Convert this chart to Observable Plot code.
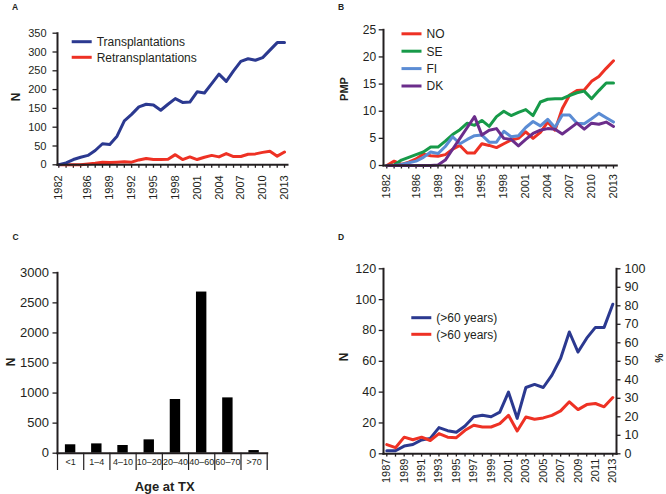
<!DOCTYPE html>
<html><head><meta charset="utf-8">
<script src="https://cdn.jsdelivr.net/npm/d3@7"></script>
<script src="https://cdn.jsdelivr.net/npm/@observablehq/plot@0.6"></script>
<style>
html,body{margin:0;padding:0;background:#fff;}
#root{position:relative;width:666px;height:494px;overflow:hidden;font-family:"Liberation Sans",Arial,Helvetica,sans-serif;color:#231f20;}
.panel{position:absolute;}
#overlay{position:absolute;left:0;top:0;pointer-events:none;}
</style></head><body><div id="root"></div>
<script>
// ---------- data ----------
const years = [1982,1983,1984,1985,1986,1987,1988,1989,1990,1991,1992,1993,1994,1995,1996,1997,1998,1999,2000,2001,2002,2003,2004,2005,2006,2007,2008,2009,2010,2011,2012,2013];
const yearLabelsAB = [1982,1986,1989,1992,1995,1998,2001,2004,2007,2010,2013];

const transplantations = [0,5,14,20,25,38,56,54,76,117,134,154,161,159,145,161,176,166,167,194,191,216,241,222,250,275,282,278,285,305,325,325];
const retransplantations = [0,0,0,0,2,4,7,6,7,8,7,13,17,14,14,15,27,14,21,14,20,25,21,30,22,22,28,29,33,36,23,34];
const ticksA = [0,50,100,150,200,250,300,350];

const pmpNO = [0,0.8,0.2,0.6,1.2,2.1,1.8,1.7,2.0,3.0,3.7,2.3,2.3,4.0,3.7,3.3,4.0,4.7,5.0,6.2,5.0,6.1,8.0,6.5,10.5,13.0,13.8,13.9,15.5,16.4,17.9,19.3];
const pmpSE = [0,0.1,1.0,1.5,2.0,2.5,3.4,3.4,4.5,5.7,6.6,7.8,7.4,8.3,7.2,9.0,10.0,9.2,9.8,10.3,9.2,11.7,12.2,12.3,12.3,12.9,13.4,13.7,12.3,13.8,15.2,15.2];
const pmpFI = [0,0,0.2,0.5,0.8,1.5,2.5,2.2,3.5,5.3,4.0,4.8,5.5,5.6,4.3,4.3,6.3,5.3,5.5,7.0,8.1,7.3,8.5,7.0,9.3,9.3,7.8,7.7,8.6,9.6,8.8,8.0];
const pmpDK = [0,0,0,0,0,0,0,0.1,1.0,3.0,5.0,7.0,9.0,5.6,6.5,6.8,5.0,4.8,3.6,4.8,5.9,6.5,6.8,6.7,5.8,6.8,7.8,6.7,7.8,7.6,8.0,7.2];
const countries = ["NO","SE","FI","DK"];
const ticksB = [0,5,10,15,20,25];

const ageGroups = ["<1","1–4","4–10","10–20","20–40","40–60","60–70",">70"];
const ageCounts = [140,155,128,222,893,2680,920,44];
const ticksC = [0,500,1000,1500,2000,2500,3000];

const yearsD = [1987,1988,1989,1990,1991,1992,1993,1994,1995,1996,1997,1998,1999,2000,2001,2002,2003,2004,2005,2006,2007,2008,2009,2010,2011,2012,2013];
const yearLabelsD = [1987,1989,1991,1993,1995,1997,1999,2001,2003,2005,2007,2009,2011,2013];
const over60N = [2,2,5,6,9,10,17,15,14,18,24,25,24,27,40,23,43,45,43,51,62,79,66,75,82,82,97];
const over60Pct = [5,3.3,9,7.6,9,7.2,10.9,9,8.7,12.7,15.4,14.5,14.5,16.3,20.8,12.3,19.9,18.7,19.4,20.8,23.2,28.1,23.9,26.6,27.2,25.4,30.4];
const ticksDLeft = [0,20,40,60,80,100,120];
const ticksDRight = [0,10,20,30,40,50,60,70,80,90,100];

// ---------- style ----------
const INK = "#231f20";
const BLUE = "#2b3990";
const RED = "#ee3124";
const GREEN = "#179a49";
const LBLUE = "#5b8cd4";
const PURPLE = "#6b2d8b";
const countryColors = [RED, GREEN, LBLUE, PURPLE];
const FONT = '"Liberation Sans", Arial, Helvetica, sans-serif';
const plain = d => String(d);
const root = document.getElementById("root");

function place(el, left, top) {
  const d = document.createElement("div");
  d.className = "panel";
  d.style.left = left + "px";
  d.style.top = top + "px";
  d.appendChild(el);
  root.appendChild(d);
}
const baseStyle = {fontFamily: FONT, fontSize: "11px", color: INK, background: "transparent", overflow: "visible"};

// ---------- Panel A ----------
const rowsA = years.map((year, i) => ({year, tx: transplantations[i], retx: retransplantations[i]}));
place(Plot.plot({
  width: 333, height: 230,
  marginLeft: 57, marginRight: 46, marginTop: 32.7, marginBottom: 65.7,
  style: baseStyle,
  x: {domain: [years[0], years[years.length - 1]], insetLeft: 1.3, insetRight: 3},
  y: {domain: [0, 350]},
  marks: [
    Plot.axisY({ticks: ticksA, tickFormat: plain, tickSize: 4.5, tickPadding: 6.5, fontSize: 11, label: null, strokeWidth: 1.3}),
    Plot.axisX({ticks: years, tickSize: 3.5, tickPadding: 7, tickRotate: -90, fontSize: 11, label: null, strokeWidth: 1.3,
      tickFormat: d => yearLabelsAB.includes(d) ? String(d) : ""}),
    Plot.line(rowsA, {x: "year", y: "retx", stroke: RED, strokeWidth: 3}),
    Plot.line(rowsA, {x: "year", y: "tx", stroke: BLUE, strokeWidth: 3}),
    Plot.frame({anchor: "left", strokeWidth: 2}),
    Plot.frame({anchor: "bottom", strokeWidth: 2})
  ]
}), 0, 0);

// ---------- Panel B ----------
const seriesB = [pmpNO, pmpSE, pmpFI, pmpDK];
const rowsB = countries.flatMap((c, k) => years.map((year, i) => ({country: c, year, pmp: seriesB[k][i]})));
place(Plot.plot({
  width: 333, height: 230,
  marginLeft: 50, marginRight: 49.7, marginTop: 29.3, marginBottom: 65,
  style: baseStyle,
  x: {domain: [years[0], years[years.length - 1]], insetLeft: 3.3, insetRight: 3.3},
  y: {domain: [0, 25]},
  color: {domain: countries, range: countryColors},
  marks: [
    Plot.axisY({ticks: ticksB, tickFormat: plain, tickSize: 4.3, tickPadding: 3, fontSize: 12, label: null, strokeWidth: 1.3}),
    Plot.axisX({ticks: years, tickSize: 3.5, tickPadding: 5, tickRotate: -90, fontSize: 11, label: null, strokeWidth: 1.3,
      tickFormat: d => yearLabelsAB.includes(d) ? String(d) : ""}),
    Plot.line(rowsB, {x: "year", y: "pmp", z: "country", stroke: "country", strokeWidth: 3}),
    Plot.frame({anchor: "left", strokeWidth: 2}),
    Plot.frame({anchor: "bottom", strokeWidth: 2})
  ]
}), 333, 0);

// ---------- Panel C ----------
const rowsC = ageGroups.map((group, i) => ({group, i, n: ageCounts[i]}));
place(Plot.plot({
  width: 333, height: 264,
  marginLeft: 57, marginRight: 66.3, marginTop: 42.3, marginBottom: 41.3,
  style: baseStyle,
  x: {domain: [0, ageGroups.length]},
  y: {domain: [0, 3000]},
  marks: [
    Plot.axisY({ticks: ticksC, tickFormat: plain, tickSize: 4.5, tickPadding: 4, fontSize: 13, label: null, strokeWidth: 1.3}),
    Plot.axisX({ticks: d3.range(0, ageGroups.length + 1), tickSize: 17.3, tickFormat: () => "", label: null, strokeWidth: 1.2}),
    Plot.rectY(rowsC, {x1: "i", x2: d => d.i + 1, y1: 0, y2: "n", insetLeft: 7.9, insetRight: 7.9, fill: "#000"}),
    Plot.text(rowsC, {x: d => d.i + 0.5, text: "group", frameAnchor: "bottom", dy: 11.8, fontSize: 9}),
    Plot.frame({anchor: "left", strokeWidth: 2}),
    Plot.frame({anchor: "bottom", strokeWidth: 2})
  ]
}), 0, 230);

// ---------- Panel D ----------
const rowsD = yearsD.map((year, i) => ({year, n: over60N[i], pct: over60Pct[i]}));
const dimsD = {width: 333, height: 264, marginLeft: 50, marginRight: 50, marginTop: 38.3, marginBottom: 40.7};
const xD = {domain: [yearsD[0], yearsD[yearsD.length - 1]], insetLeft: 3.3, insetRight: 3.7};
place(Plot.plot({
  ...dimsD,
  style: baseStyle,
  x: xD,
  y: {domain: [0, 120]},
  marks: [
    Plot.axisY({ticks: ticksDLeft, tickFormat: plain, tickSize: 4.3, tickPadding: 3, fontSize: 12.5, label: null, strokeWidth: 1.3}),
    Plot.axisX({ticks: yearsD, tickSize: 3.3, tickPadding: 1.5, tickRotate: -90, fontSize: 11, label: null, strokeWidth: 1.3,
      tickFormat: d => yearLabelsD.includes(d) ? String(d) : ""}),
    Plot.line(rowsD, {x: "year", y: "n", stroke: BLUE, strokeWidth: 3}),
    Plot.frame({anchor: "left", strokeWidth: 2}),
    Plot.frame({anchor: "bottom", strokeWidth: 2})
  ]
}), 333, 230);
place(Plot.plot({
  ...dimsD,
  style: baseStyle,
  x: {...xD, axis: null},
  y: {domain: [0, 100], axis: null},
  marks: [
    Plot.axisY({anchor: "right", ticks: ticksDRight, tickFormat: plain, tickSize: 3.5, tickPadding: 4.5, fontSize: 12.5, label: null, strokeWidth: 1.3}),
    Plot.line(rowsD, {x: "year", y: "pct", stroke: RED, strokeWidth: 3}),
    Plot.frame({anchor: "right", strokeWidth: 2})
  ]
}), 333, 230);

// ---------- overlay: panel letters, axis titles, legends ----------
const svg = d3.create("svg").attr("id", "overlay").attr("width", 666).attr("height", 494)
  .style("font-family", FONT).attr("fill", INK);

const letters = [["A", 12, 10], ["B", 338, 10], ["C", 12.5, 240], ["D", 338, 240]];
for (const [t, x, y] of letters) svg.append("text").attr("x", x).attr("y", y).attr("font-size", 8.5).attr("font-weight", "bold").text(t);

const vtitles = [["N", 16, 97, 12], ["PMP", 344, 89, 11], ["N", 10.5, 362, 12], ["N", 344, 357, 12], ["%", 659.5, 358, 10.5]];
for (const [t, x, y, fs] of vtitles) svg.append("text").attr("transform", `translate(${x},${y}) rotate(-90)`)
  .attr("text-anchor", "middle").attr("dy", "0.35em").attr("font-size", fs).attr("font-weight", "bold").text(t);
svg.append("text").attr("x", 164.7).attr("y", 490.5).attr("text-anchor", "middle").attr("font-size", 13).attr("font-weight", "bold").text("Age at TX");

function legend(items, x, y0, step) {
  items.forEach(([label, color], k) => {
    const y = y0 + k * step;
    svg.append("line").attr("x1", x).attr("x2", x + 20).attr("y1", y).attr("y2", y).attr("stroke", color).attr("stroke-width", 3);
    svg.append("text").attr("x", x + 25).attr("y", y).attr("dy", "0.36em").attr("font-size", 12).text(label);
  });
}
legend([["Transplantations", BLUE], ["Retransplantations", RED]], 71.7, 41.7, 15.6);
legend(countries.map((c, k) => [c, countryColors[k]]), 401.5, 33.8, 17.4);
legend([["(>60 years)", BLUE], ["(>60 years)", RED]], 411.3, 317.7, 16.6);

root.appendChild(svg.node());
</script>
</body></html>
